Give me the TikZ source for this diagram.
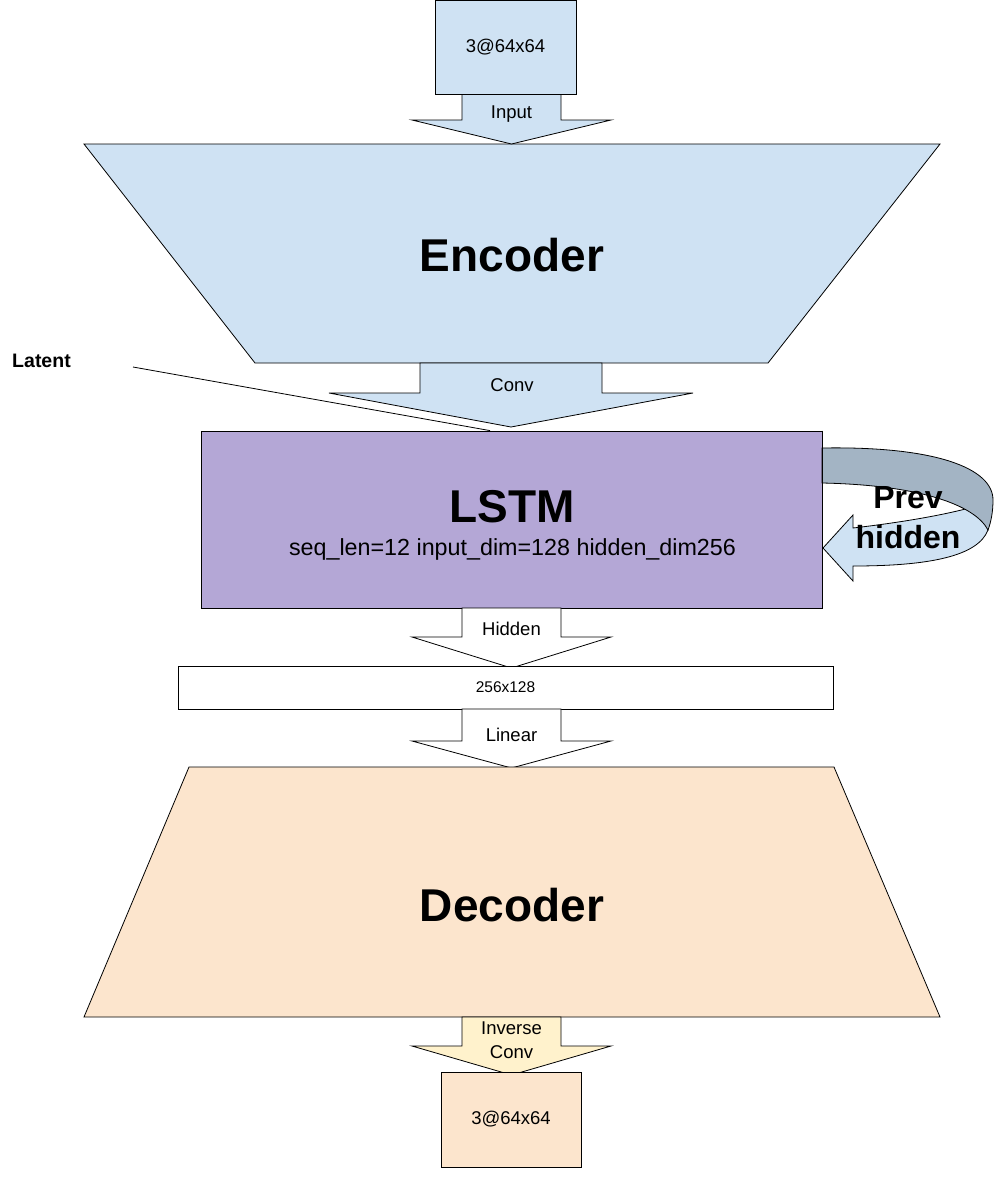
\documentclass[tikz,border=0pt]{standalone}
\usepackage{fontspec}
\setmainfont{Liberation Sans}
\definecolor{encblue}{HTML}{CFE2F3}
\definecolor{lstmpurple}{HTML}{B4A7D6}
\definecolor{decpeach}{HTML}{FCE5CD}
\definecolor{invyellow}{HTML}{FFF2CC}
\definecolor{bandgray}{HTML}{A3B4C4}
\tikzset{
  outl/.style={draw=black, line width=0.8pt, line join=miter},
  box/.style={outl, inner sep=0pt, font=\fontsize{18.5}{22}\selectfont},
  small/.style={inner sep=0pt, font=\fontsize{18.5}{22}\selectfont},
  big/.style={inner sep=0pt, font=\fontsize{46}{50}\selectfont\bfseries},
}
% block arrow: fill, center x, y top, y of wings, y of tip, shaft half width, wing half width
\newcommand\blockarr[7]{%
  \draw[outl, fill=#1] (#2-#6,#3) -- (#2-#6,#4) -- (#2-#7,#4) -- (#2,#5) -- (#2+#7,#4) -- (#2+#6,#4) -- (#2+#6,#3) -- cycle;}
\begin{document}
\begin{tikzpicture}[x=1pt,y=-1pt]
\useasboundingbox (0,0) rectangle (999,1179);

% Encoder
\draw[outl, fill=encblue] (84,144) -- (940,144) -- (768,363) -- (255,363) -- cycle;
\node[big] (enc) at (512,255) {Encoder};

% Input arrow and input image
\blockarr{encblue}{511.5}{94}{120}{144}{49.5}{99.5}
\node[small] (inlbl) at (511.5,114) {Input};
\node[box, fill=encblue, minimum width=141pt, minimum height=93.5pt] (inimg) at (505.5,47.25) {3@64x64};

% Conv arrow
\blockarr{encblue}{511}{363}{393}{427}{91}{182}
\node[small] (convlbl) at (512,385) {Conv};

% LSTM
\node[box, fill=lstmpurple, minimum width=621pt, minimum height=177pt] (lstm) at (511.5,519.5) {};
\node[big] (lstmlbl) at (512,507) {LSTM};
\node[inner sep=0pt, font=\fontsize{23.3}{26}\selectfont] (lstmsub) at (512.5,549) {seq\_len=12 input\_dim=128 hidden\_dim256};

% Latent
\node[inner sep=0pt, font=\fontsize{19.5}{22}\selectfont\bfseries] (latent) at (41.5,361) {Latent};
\coordinate (latstart) at (133,367);
\draw[line width=0.8pt] (latstart) -- ([xshift=-21.5pt]lstm.north);

% Previous hidden curved arrow
\draw[outl, fill=encblue] (853,528) .. controls (905,522) and (950,514) .. (980,505) -- (988,530) .. controls (978,556) and (930,566) .. (853,566) -- (853,581) -- (823,548) -- (853,515) -- cycle;
\draw[outl, fill=bandgray] (822,448) .. controls (935,446) and (993,468) .. (993,500) .. controls (993,512) and (991,522) .. (988,530) .. controls (975,505) and (920,485) .. (822,483) -- cycle;
\draw[line width=0.8pt] (lstm.north east) -- (lstm.south east);
\node[inner sep=0pt, align=center, font=\fontsize{32}{40}\selectfont\bfseries] (prev) at (908,518) {Prev\\hidden};

% Hidden arrow
\blockarr{white}{511.5}{608}{637}{668}{49.5}{99.5}
\node[small] (hidlbl) at (511.5,629) {Hidden};

% 256x128
\node[box, fill=white, minimum width=655pt, minimum height=43pt, font=\fontsize{15.5}{18}\selectfont] (mat) at (505.5,687.5) {256x128};

% Linear arrow
\blockarr{white}{511.5}{709}{741}{768}{49.5}{99.5}
\node[small] (linlbl) at (511.5,735) {Linear};

% Decoder
\draw[outl, fill=decpeach] (189,767) -- (834,767) -- (940,1017) -- (84,1017) -- cycle;
\node[big] (dec) at (512,905) {Decoder};

% Inverse conv arrow
\blockarr{invyellow}{511.5}{1017}{1046}{1075}{49.5}{99.5}
\node[small, align=center, font=\fontsize{18.5}{24}\selectfont] (invlbl) at (511.5,1040) {Inverse\\Conv};

% Output image
\node[box, fill=decpeach, minimum width=140pt, minimum height=95pt] (outimg) at (511,1119.5) {3@64x64};
\end{tikzpicture}
\end{document}
